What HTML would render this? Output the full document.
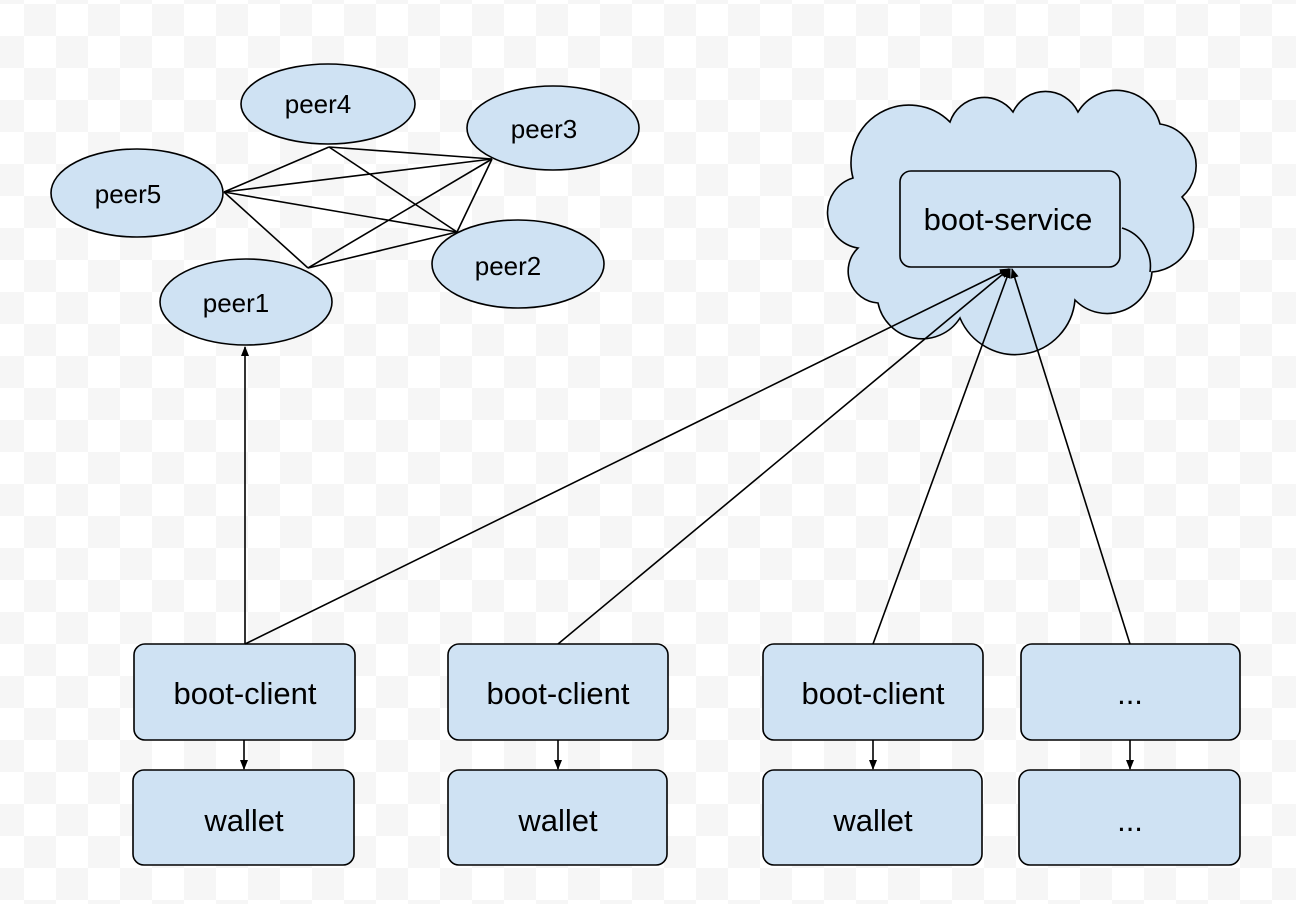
<!DOCTYPE html>
<html><head><meta charset="utf-8"><style>
html,body{margin:0;padding:0;}
body{width:1296px;height:904px;overflow:hidden;background-color:#fff;
background-image:conic-gradient(#fff 0 25%,#f6f6f6 0 50%,#fff 0 75%,#f6f6f6 0);
background-size:64px 64px;background-position:24px 4px;}
svg{position:absolute;left:0;top:0;}
text{font-family:"Liberation Sans",Arial,sans-serif;fill:#000;}
</style></head><body>
<svg width="1296" height="904" viewBox="0 0 1296 904">
<defs>
<marker id="a" markerWidth="10" markerHeight="10" refX="9" refY="5" orient="auto" markerUnits="userSpaceOnUse">
<path d="M0,1 L10,5 L0,9 z" fill="#000"/></marker>
</defs>
<g fill="#cfe2f3" stroke="#000" stroke-width="1.6">
<path d="M853,178 A58,58 0 0 1 950,122 A36,36 0 0 1 1013,112 A36,36 0 0 1 1078,112 A45,45 0 0 1 1160,124 A42,42 0 0 1 1182,197 A45,45 0 0 1 1152,272 A45,45 0 0 1 1075,300 A60,60 0 0 1 960,318 A45,45 0 0 1 878,303 A32,32 0 0 1 858,248 A36,36 0 0 1 853,178 Z"/>
<rect x="900" y="171" width="220" height="96" rx="11"/>
<ellipse cx="328" cy="104" rx="87" ry="40"/>
<ellipse cx="553" cy="128" rx="86" ry="42"/>
<ellipse cx="137" cy="193" rx="86" ry="44"/>
<ellipse cx="518" cy="264" rx="86" ry="44"/>
<ellipse cx="246" cy="302" rx="86" ry="43"/>
<rect x="134" y="644" width="221" height="96" rx="11"/>
<rect x="133" y="770" width="221" height="95" rx="11"/>
<rect x="448" y="644" width="220" height="96" rx="11"/>
<rect x="448" y="770" width="219" height="95" rx="11"/>
<rect x="763" y="644" width="220" height="96" rx="11"/>
<rect x="763" y="770" width="219" height="95" rx="11"/>
<rect x="1021" y="644" width="219" height="96" rx="11"/>
<rect x="1019" y="770" width="221" height="95" rx="11"/>
</g>
<g fill="none" stroke="#000" stroke-width="1.6">
<path d="M1122,228 A40,40 0 0 1 1150,272"/>
</g>
<g stroke="#000" stroke-width="1.6" fill="none">
<line x1="329" y1="147" x2="492" y2="159"/>
<line x1="329" y1="147" x2="457" y2="232"/>
<line x1="329" y1="147" x2="224" y2="192"/>
<line x1="224" y1="192" x2="492" y2="159"/>
<line x1="224" y1="192" x2="457" y2="232"/>
<line x1="224" y1="192" x2="308" y2="268"/>
<line x1="492" y1="159" x2="308" y2="268"/>
<line x1="492" y1="159" x2="457" y2="232"/>
<line x1="308" y1="268" x2="457" y2="232"/>
<line x1="245" y1="644" x2="245" y2="347" marker-end="url(#a)"/>
<line x1="245" y1="644" x2="1009" y2="269" marker-end="url(#a)"/>
<line x1="558" y1="644" x2="1009" y2="269" marker-end="url(#a)"/>
<line x1="873" y1="644" x2="1010" y2="269" marker-end="url(#a)"/>
<line x1="1130" y1="644" x2="1012" y2="269" marker-end="url(#a)"/>
<line x1="244" y1="740" x2="244" y2="769" marker-end="url(#a)"/>
<line x1="558" y1="740" x2="558" y2="769" marker-end="url(#a)"/>
<line x1="873" y1="740" x2="873" y2="769" marker-end="url(#a)"/>
<line x1="1130" y1="740" x2="1130" y2="769" marker-end="url(#a)"/>
</g>
<g font-size="26" text-anchor="middle">
<text x="318" y="113">peer4</text>
<text x="544" y="138">peer3</text>
<text x="128" y="203">peer5</text>
<text x="508" y="275">peer2</text>
<text x="236" y="312">peer1</text>
</g>
<g font-size="31" text-anchor="middle">
<text x="1008" y="230">boot-service</text>
<text x="245" y="704">boot-client</text>
<text x="244" y="831">wallet</text>
<text x="558" y="704">boot-client</text>
<text x="558" y="831">wallet</text>
<text x="873" y="704">boot-client</text>
<text x="873" y="831">wallet</text>
<text x="1130" y="704">...</text>
<text x="1130" y="831">...</text>
</g>
</svg>
</body></html>
